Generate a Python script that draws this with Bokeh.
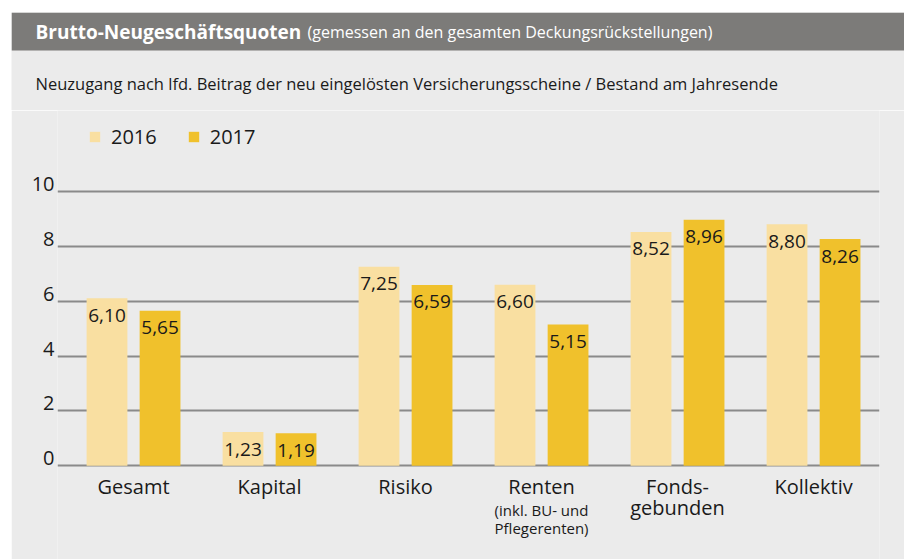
from bokeh.plotting import figure
from bokeh.models import (Range1d, FixedTicker, ColumnDataSource, Label,
                          BoxAnnotation, Legend, LegendItem, NumeralTickFormatter)
from bokeh.transform import dodge
from bokeh.embed import file_html
from bokeh.resources import INLINE
from bokeh.core.properties import value

# ---- data ----
categories = ["Gesamt", "Kapital", "Risiko", "Renten", "Fonds-\ngebunden", "Kollektiv"]
values_2016 = [6.10, 1.23, 7.25, 6.60, 8.52, 8.80]
values_2017 = [5.65, 1.19, 6.59, 5.15, 8.96, 8.26]
series_names = ["2016", "2017"]
y_ticks = [0, 2, 4, 6, 8, 10]
title_bold = "Brutto-Neugeschäftsquoten"
title_rest = "(gemessen an den gesamten Deckungsrückstellungen)"
subtitle = "Neuzugang nach lfd. Beitrag der neu eingelösten Versicherungsscheine / Bestand am Jahresende"
renten_note = "(inkl. BU- und\nPflegerenten)"

# ---- style ----
FONT = "Open Sans"
BG = "#ebebeb"
BAR_DARK = "#7c7b79"
C16 = "#f9dfa1"
C17 = "#f0c12c"
GRID = "#8a8a8a"
TXT = "#1a1a1a"

FIG_W = 893
HEAD_H = 98
MAIN_H = 449
PX_PER_UNIT = 27.45
Y0_FROM_TOP = 355.3          # y=0 line, px below top of main figure
LABEL_LIFT = 7.5 / PX_PER_UNIT

n = len(categories)
xs = list(range(n))
fmt = lambda v: f"{v:.2f}".replace(".", ",")

# ---------------- header ----------------
hf = figure(width=FIG_W, height=HEAD_H, output_backend="svg", toolbar_location=None,
            x_range=Range1d(0, 1), y_range=Range1d(0, 1),
            x_axis_type=None, y_axis_type=None, min_border=0,
            background_fill_color=BG, border_fill_color=BG, outline_line_color=None,
            margin=(12, 0, 0, 11))
hf.grid.visible = False
hf.title.visible = False
hf.add_layout(BoxAnnotation(left=0, right=FIG_W, bottom=HEAD_H - 38, top=HEAD_H,
                            left_units="screen", right_units="screen",
                            bottom_units="screen", top_units="screen",
                            fill_color=BAR_DARK, fill_alpha=1, line_color=None))
hf.add_layout(Label(x=24, y=HEAD_H - 19, x_units="screen", y_units="screen",
                    text=title_bold, text_font=FONT, text_font_style="bold",
                    text_font_size="19px", text_color="white", text_baseline="middle"))
hf.add_layout(Label(x=296, y=HEAD_H - 19, x_units="screen", y_units="screen",
                    text=title_rest, text_font=FONT, text_font_size="16px",
                    text_color="white", text_baseline="middle"))
hf.add_layout(Label(x=24, y=HEAD_H - 71, x_units="screen", y_units="screen",
                    text=subtitle, text_font=FONT, text_font_size="16.5px",
                    text_color=TXT, text_baseline="middle"))

# ---------------- main chart ----------------
src = ColumnDataSource(dict(
    x=xs, v16=values_2016, v17=values_2017,
    l16=[fmt(v) for v in values_2016], l17=[fmt(v) for v in values_2017]))

y_end = Y0_FROM_TOP / PX_PER_UNIT
y_start = -(MAIN_H - Y0_FROM_TOP) / PX_PER_UNIT
p = figure(width=FIG_W, height=MAIN_H, output_backend="svg", toolbar_location=None,
           x_range=Range1d(-0.559, 5.485), y_range=Range1d(y_start, y_end),
           min_border_left=46, min_border_right=25, min_border_top=0,
           min_border_bottom=0, background_fill_color=BG, border_fill_color=BG,
           outline_line_color=None, margin=(0, 0, 0, 11))
p.title.visible = False

OFF = 0.195
W = 0.30
r16 = p.vbar(x=dodge("x", -OFF), top="v16", width=W, source=src,
             fill_color=C16, line_color=None)
r17 = p.vbar(x=dodge("x", OFF), top="v17", width=W, source=src,
             fill_color=C17, line_color=None)

for off, col in ((-OFF, "16"), (OFF, "17")):
    p.text(x=dodge("x", off), y="v" + col, text="l" + col, source=src,
           text_align="center", text_baseline="middle", y_offset=17,
           text_font=value(FONT), text_font_size="19px", text_color=TXT)

# x axis fixed on the zero line
p.xaxis.fixed_location = 0
p.xaxis.ticker = FixedTicker(ticks=xs)
p.xaxis.major_label_overrides = {i: c for i, c in enumerate(categories)}
p.xaxis.major_label_standoff = 7
p.xaxis.major_label_text_line_height = 0.8
p.xgrid.visible = False

# y axis: labels sit just above their grid lines
p.yaxis.ticker = FixedTicker(ticks=[t + LABEL_LIFT for t in y_ticks])
p.yaxis.formatter = NumeralTickFormatter(format="0")
p.yaxis.major_label_standoff = 3
p.ygrid.ticker = FixedTicker(ticks=y_ticks)
p.ygrid.grid_line_color = GRID
p.ygrid.grid_line_width = 2

for ax in (p.xaxis, p.yaxis):
    ax.axis_line_color = None
    ax.major_tick_line_color = None
    ax.minor_tick_line_color = None
    ax.major_tick_out = 0
    ax.major_tick_in = 0
    ax.major_label_text_font = FONT
    ax.major_label_text_font_size = "20px"
    ax.major_label_text_color = TXT

p.add_layout(Label(x=categories.index("Renten"), y=MAIN_H - 389, x_units="data",
                   y_units="screen", text=renten_note, text_font=FONT,
                   text_font_size="15px", text_color=TXT, text_align="center",
                   text_baseline="top", text_line_height=0.9))

legend = Legend(items=[LegendItem(label=series_names[0], renderers=[r16]),
                       LegendItem(label=series_names[1], renderers=[r17])],
                orientation="horizontal", location=(31, MAIN_H - 39.5),
                glyph_width=13, glyph_height=13, label_standoff=10, spacing=30,
                padding=0, margin=0, border_line_color=None, background_fill_alpha=0,
                label_text_font=FONT, label_text_font_size="20px",
                label_text_color=TXT, label_height=20)
p.add_layout(legend)

open("out.html", "w").write(file_html([hf, p], INLINE))
